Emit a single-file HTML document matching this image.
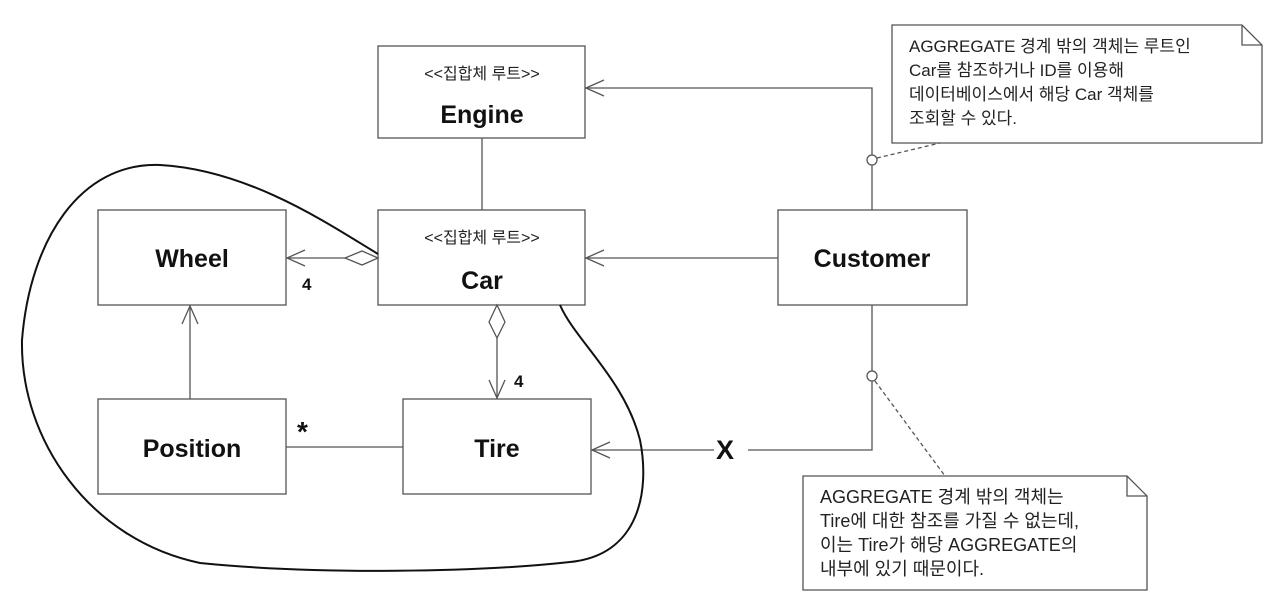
<!DOCTYPE html>
<html><head><meta charset="utf-8"><style>
html,body{margin:0;padding:0;background:#fff;}
svg{display:block;}
.b{font-family:"Liberation Sans",Arial,sans-serif;font-weight:bold;fill:#111;}
.k{font-family:"Liberation Sans","Noto Sans CJK KR",sans-serif;fill:#222;}
</style></head><body>
<svg width="1280" height="607" viewBox="0 0 1280 607" xmlns="http://www.w3.org/2000/svg">
<g fill="none" stroke="#555" stroke-width="1.3">
<rect x="378" y="46" width="207" height="92"/>
<rect x="378" y="210" width="207" height="95"/>
<rect x="98" y="210" width="188" height="95"/>
<rect x="98" y="399" width="188" height="95"/>
<rect x="403" y="399" width="188" height="95"/>
<rect x="778" y="210" width="189" height="95"/>
<polyline points="872,210 872,88 585,88"/>
<polyline points="604,80 586,88 604,96"/>
<line x1="778" y1="258" x2="585" y2="258"/>
<polyline points="604,250 586,258 604,266"/>
<line x1="482" y1="138" x2="482" y2="210"/>
<polyline points="872,305 872,450 591,450"/>
<polyline points="610,442 592,450 610,458"/>
<line x1="345" y1="258" x2="286" y2="258"/>
<polygon points="378,258 362,251 345,258 362,265" fill="#fff"/>
<polyline points="305,250 287,258 305,266"/>
<line x1="497" y1="338" x2="497" y2="399"/>
<polygon points="497,305 505,322 497,338 489,322" fill="#fff"/>
<polyline points="489,380 497,398 505,380"/>
<line x1="190" y1="399" x2="190" y2="305"/>
<polyline points="182,324 190,306 198,324"/>
<line x1="286" y1="447" x2="403" y2="447"/>
<circle cx="872" cy="160" r="5" fill="#fff"/>
<circle cx="872" cy="376" r="5" fill="#fff"/>
<line x1="877" y1="158" x2="940" y2="143" stroke-dasharray="4,3"/>
<line x1="875" y1="381" x2="945" y2="476" stroke-dasharray="4,3"/>
<polygon points="892,25 1242,25 1262,45 1262,143 892,143" fill="#fff"/>
<polyline points="1242,25 1242,45 1262,45"/>
<polygon points="803,476 1127,476 1147,496 1147,590 803,590" fill="#fff"/>
<polyline points="1127,476 1127,496 1147,496"/>
</g>
<rect x="714" y="435" width="34" height="28" fill="#fff"/>
<path d="M378,254 C330,225 250,170 160,165 C80,162 30,240 22,340 C20,440 90,540 200,563 C320,575 480,572 570,562 C640,555 650,490 640,440 C625,380 575,340 560,305" fill="none" stroke="#111" stroke-width="2"/>
<g class="k" font-size="16" text-anchor="middle">
<text x="482" y="79">&lt;&lt;집합체 루트&gt;&gt;</text>
<text x="482" y="243">&lt;&lt;집합체 루트&gt;&gt;</text>
</g>
<g class="b" font-size="25" text-anchor="middle">
<text x="482" y="123">Engine</text>
<text x="482" y="289">Car</text>
<text x="192" y="267">Wheel</text>
<text x="192" y="457">Position</text>
<text x="497" y="457">Tire</text>
<text x="872" y="267">Customer</text>
</g>
<g class="b" font-size="17">
<text x="302" y="290">4</text>
<text x="514" y="387">4</text>
<text x="297" y="441" font-size="28">*</text>
<text x="716" y="459" font-size="27">X</text>
</g>
<g class="k" font-size="17">
<text x="909" y="52">AGGREGATE 경계 밖의 객체는 루트인</text>
<text x="909" y="76">Car를 참조하거나 ID를 이용해</text>
<text x="909" y="100">데이터베이스에서 해당 Car 객체를</text>
<text x="909" y="124">조회할 수 있다.</text>
</g>
<g class="k" font-size="18">
<text x="820" y="503">AGGREGATE 경계 밖의 객체는</text>
<text x="820" y="527">Tire에 대한 참조를 가질 수 없는데,</text>
<text x="820" y="551">이는 Tire가 해당 AGGREGATE의</text>
<text x="820" y="575">내부에 있기 때문이다.</text>
</g>
</svg>
</body></html>
